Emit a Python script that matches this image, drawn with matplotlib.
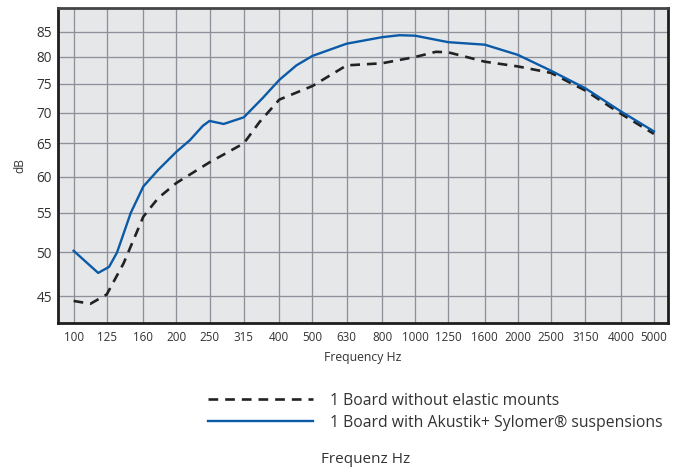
import matplotlib.pyplot as plt
from matplotlib.ticker import NullLocator

plt.rcParams['font.family'] = ['Open Sans', 'DejaVu Sans']
plt.rcParams['lines.scale_dashes'] = False

# third-octave band centres shown on the x axis
bands = [100, 125, 160, 200, 250, 315, 400, 500, 630, 800,
         1000, 1250, 1600, 2000, 2500, 3150, 4000, 5000]
dB_ticks = [45, 50, 55, 60, 65, 70, 75, 80, 85]

# 1 board, no elastic mounts
freq_plain = [100, 112, 125, 140, 160, 170, 177, 200, 250, 315, 350, 400, 500,
              630, 800, 1000, 1150, 1250, 1600, 2000, 2500, 3150, 4000, 5000]
level_plain = [44.5, 44.2, 45.2, 48.7, 54.5, 56.0, 57.0, 59.1, 62.1, 65.0, 68.4, 72.2, 74.6,
               78.4, 78.8, 80.0, 81.0, 80.9, 79.1, 78.2, 77.0, 73.8, 69.8, 66.5]

# 1 board on Akustik+ Sylomer suspensions
freq_sylomer = [100, 118, 127, 134, 147, 160, 177, 200, 219, 239, 250, 275, 315,
                358, 400, 449, 500, 630, 800, 900, 1000, 1250, 1600, 2000,
                2500, 3150, 4000, 5000]
level_sylomer = [50.2, 47.6, 48.3, 50.0, 55.0, 58.6, 61.0, 63.7, 65.5, 67.8, 68.6, 68.1, 69.2,
                 72.5, 75.7, 78.4, 80.2, 82.6, 83.9, 84.3, 84.2, 82.9, 82.4, 80.4,
                 77.4, 74.2, 70.2, 66.9]

fig = plt.figure(figsize=(6.84, 4.73), dpi=100)
ax = fig.add_axes([0.0848, 0.3171, 0.8918, 0.666])
ax.set_facecolor('#e6e7e9')

ax.set_xscale('log')
ax.set_yscale('log')
ax.set_xlim(90, 5500)
ax.set_ylim(42.2, 90)

ax.plot(freq_plain, level_plain, color='#222222', lw=1.9, dashes=(7, 5),
        label='1 Board without elastic mounts', zorder=3)
ax.plot(freq_sylomer, level_sylomer, color='#0a5aa8', lw=1.7,
        label='1 Board with Akustik+ Sylomer® suspensions', zorder=4)

ax.set_xticks(bands)
ax.set_xticklabels([str(b) for b in bands])
ax.set_yticks(dB_ticks)
ax.set_yticklabels([str(t) for t in dB_ticks])
ax.xaxis.set_minor_locator(NullLocator())
ax.yaxis.set_minor_locator(NullLocator())
ax.tick_params(axis='x', length=0, pad=6, labelsize=8.4, labelcolor='#333333')
ax.tick_params(axis='y', length=0, pad=4.5, labelsize=9.8, labelcolor='#333333')

ax.grid(True, color='#8e9199', lw=0.95)
ax.set_axisbelow(True)
for side in ax.spines.values():
    side.set_linewidth(2)
    side.set_color('#1e1e1e')
ax.spines['top'].set_color('#444444')

ax.set_xlabel('Frequency Hz', fontsize=8.8, color='#333333', labelpad=5)
ax.set_ylabel('dB', fontsize=8.6, color='#333333', labelpad=7)

fig.legend(loc='upper left', bbox_to_anchor=(0.295, 0.183), frameon=False,
           fontsize=11.3, handlelength=6.7, handletextpad=1.1,
           labelspacing=0.38, borderaxespad=0, labelcolor='#333333')

fig.text(0.534, 0.021, 'Frequenz Hz', ha='center', fontsize=11, color='#333333')

fig.savefig('out.png', dpi=100)
